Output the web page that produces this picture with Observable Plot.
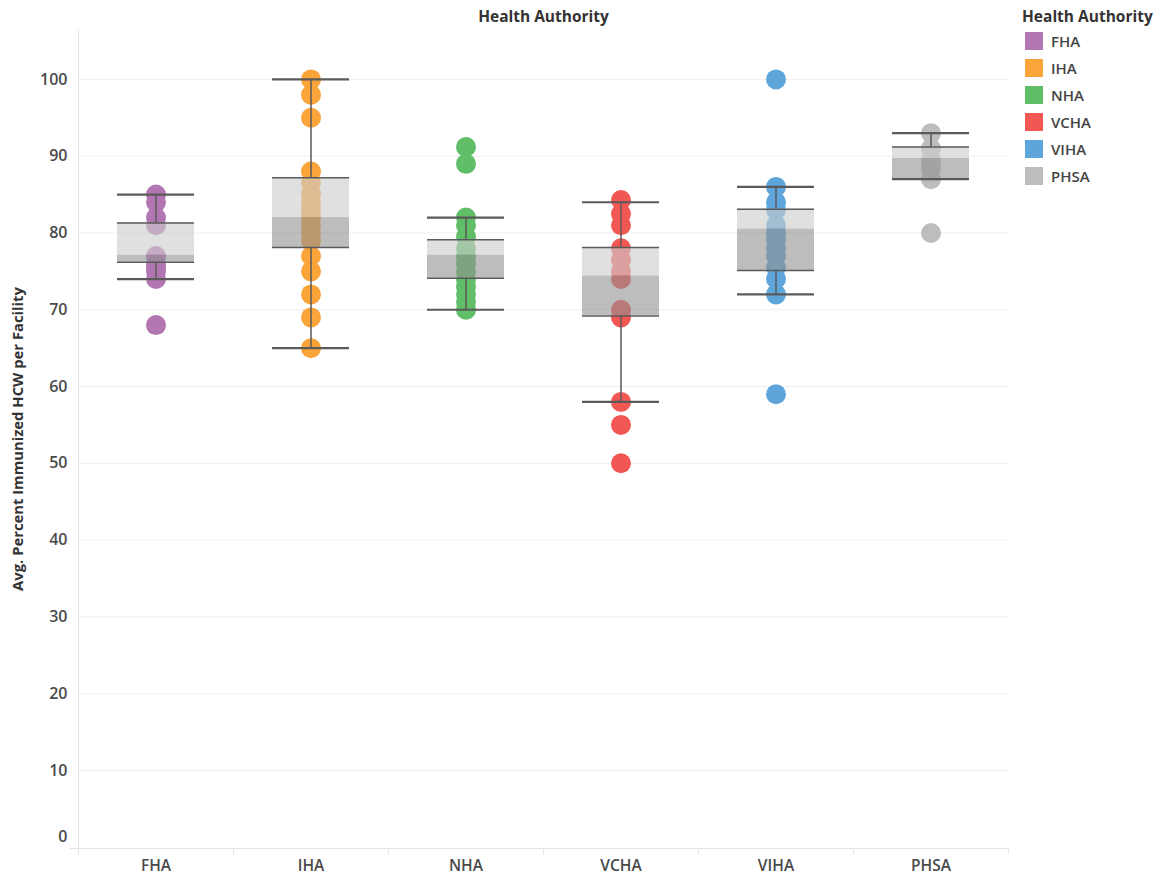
<!DOCTYPE html>
<html>
<head>
<meta charset="utf-8">
<script src="https://cdn.jsdelivr.net/npm/d3@7"></script>
<script src="https://cdn.jsdelivr.net/npm/@observablehq/plot@0.6"></script>
<style>
  body { margin: 0; background: #fff; font-family: "Open Sans", sans-serif; }
  #wrap { position: relative; width: 1156px; height: 877px; }
  #chart { position: absolute; left: 0; top: 0; }
  #legend { position: absolute; left: 1022px; top: 5px; color: #333; }
  #legend .title { font-weight: 700; font-size: 15.5px; height: 22px; line-height: 22px; white-space: nowrap; }
  #legend .item { display: flex; align-items: center; height: 27px; font-size: 15px; font-weight: 600; color: #444; }
  #legend .sw { width: 18px; height: 18px; margin-left: 3px; margin-right: 8px; }
</style>
</head>
<body>
<div id="wrap"><div id="chart"></div><div id="legend"></div></div>
<script>
// Categories and colours
const categories = ["FHA", "IHA", "NHA", "VCHA", "VIHA", "PHSA"];
const colors = ["#B276B2", "#FAA43A", "#60BD68", "#F15854", "#5DA5DA", "#BDBDBD"];

// Facility values per health authority
const fhaValues  = [85, 84, 82, 81, 77, 76, 75.5, 75, 74, 68];
const ihaValues  = [100, 98, 95, 88, 86.5, 85, 84, 83, 82, 81, 80, 79, 77, 75, 72, 69, 65];
const nhaValues  = [91.2, 89, 82, 81, 79.5, 78, 77, 76, 75, 74, 73, 72, 71, 70];
const vchaValues = [84.3, 82.5, 81, 78, 76.5, 75, 74, 70, 69, 58, 55, 50];
const vihaValues = [100, 86, 84, 83, 81, 80, 79, 78, 77, 75.5, 74, 72, 59];
const phsaValues = [93, 91, 89.5, 88.5, 87, 80];

// Box plot statistics
const whiskerLow  = [74, 65, 70, 58, 72, 87];
const q1          = [76.2, 78.1, 74.1, 69.2, 75.1, 87];
const median      = [77.1, 82, 77.1, 74.4, 80.5, 89.7];
const q3          = [81.3, 87.2, 79.1, 78.1, 83.1, 91.2];
const whiskerHigh = [85, 100, 82, 84, 86, 93];

// Axis ticks
const yTicks = [0, 10, 20, 30, 40, 50, 60, 70, 80, 90, 100];
const yDomain = [-0.17, 106.5];

const valuesByCat = [fhaValues, ihaValues, nhaValues, vchaValues, vihaValues, phsaValues];
const points = categories.flatMap((c, i) => valuesByCat[i].map(v => ({cat: c, value: v})));
const stats = categories.map((c, i) => ({
  cat: c, wl: whiskerLow[i], q1: q1[i], med: median[i], q3: q3[i], wh: whiskerHigh[i]
}));

const lineColor = "#5a5a5a";
const axisLine = "#e4e4e4";
const tickColor = "#4a4a4a";

const chart = Plot.plot({
  width: 1012,
  height: 877,
  marginLeft: 78,
  marginRight: 4,
  marginTop: 29,
  marginBottom: 29,
  style: { fontFamily: "Open Sans, sans-serif", background: "#fff", overflow: "visible" },
  x: { domain: categories, padding: 0, axis: null },
  y: { domain: yDomain, axis: null },
  color: { domain: categories, range: colors },
  marks: [
    // gridlines
    Plot.ruleY(yTicks.filter(d => d > 0), { stroke: "#eeeeee" }),
    // axis lines
    Plot.ruleX([categories[0]], { dx: -77.5, stroke: axisLine }),
    Plot.ruleY([yDomain[0]], { stroke: axisLine, insetLeft: -8 }),
    Plot.ruleX(categories, { dx: -77.5, y1: yDomain[0], y2: yDomain[0], insetBottom: -6, stroke: axisLine }),
    Plot.ruleX([categories[categories.length - 1]], { dx: 77.5, y1: yDomain[0], y2: yDomain[0], insetBottom: -6, stroke: axisLine }),
    // points
    Plot.dot(points, { x: "cat", y: "value", r: 10, fill: "cat", stroke: null }),
    // boxes
    Plot.barY(stats, { x: "cat", y1: "med", y2: "q3", fill: "#cdcdcd", fillOpacity: 0.62, insetLeft: 39, insetRight: 39 }),
    Plot.barY(stats, { x: "cat", y1: "q1", y2: "med", fill: "#919191", fillOpacity: 0.6, insetLeft: 39, insetRight: 39 }),
    Plot.tickY(stats, { x: "cat", y: "q3", insetLeft: 39, insetRight: 39, stroke: lineColor, strokeWidth: 1.5 }),
    Plot.tickY(stats, { x: "cat", y: "q1", insetLeft: 39, insetRight: 39, stroke: lineColor, strokeWidth: 1.5 }),
    // whiskers
    Plot.ruleX(stats, { x: "cat", y1: "q3", y2: "wh", stroke: lineColor, strokeWidth: 1.5 }),
    Plot.ruleX(stats, { x: "cat", y1: "wl", y2: "q1", stroke: lineColor, strokeWidth: 1.5 }),
    Plot.tickY(stats, { x: "cat", y: "wh", insetLeft: 39, insetRight: 39, stroke: lineColor, strokeWidth: 2.2 }),
    Plot.tickY(stats, { x: "cat", y: "wl", insetLeft: 39, insetRight: 39, stroke: lineColor, strokeWidth: 2.2 }),
    // axes
    Plot.axisY(yTicks.filter(d => d > 0), { tickSize: 0, tickPadding: 11, fontSize: 16, fontWeight: 600, fill: tickColor, label: null }),
    Plot.text(yTicks.filter(d => d === 0), { y: d => d, frameAnchor: "left", dx: -11, dy: -10, textAnchor: "end", fontSize: 16, fontWeight: 600, fill: tickColor }),
    Plot.axisX({ tickSize: 0, tickPadding: 11, fontSize: 15.5, fontWeight: 600, fill: tickColor, label: null }),
    // titles
    Plot.text(["Health Authority"], { frameAnchor: "top", dy: -12, lineAnchor: "middle", fontWeight: "bold", fontSize: 15.5, fill: "#333" }),
    Plot.text(["Avg. Percent Immunized HCW per Facility"], { frameAnchor: "left", dx: -60, rotate: -90, textAnchor: "middle", lineAnchor: "middle", fontWeight: "bold", fontSize: 14.8, fill: "#333" })
  ]
});
document.getElementById("chart").appendChild(chart);

// legend
const legend = document.getElementById("legend");
const t = document.createElement("div");
t.className = "title";
t.textContent = "Health Authority";
legend.appendChild(t);
categories.forEach((c, i) => {
  const row = document.createElement("div");
  row.className = "item";
  const sw = document.createElement("div");
  sw.className = "sw";
  sw.style.background = colors[i];
  const lab = document.createElement("span");
  lab.textContent = c;
  row.appendChild(sw);
  row.appendChild(lab);
  legend.appendChild(row);
});
</script>
</body>
</html>
